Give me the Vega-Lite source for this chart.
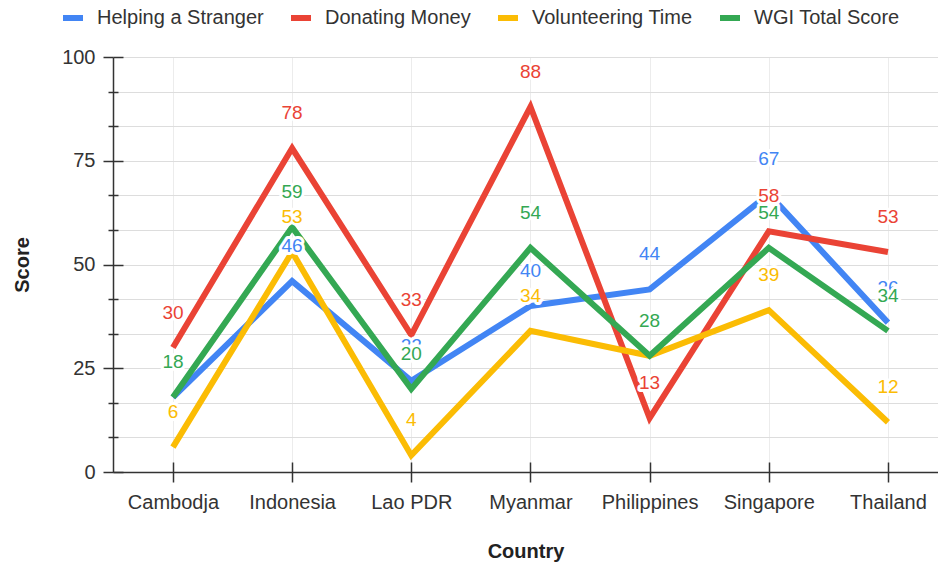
{
  "$schema": "https://vega.github.io/schema/vega-lite/v6.json",
  "width": 825,
  "height": 415,
  "autosize": "none",
  "padding": {"left": 113, "top": 57, "right": 0, "bottom": 93},
  "background": "white",
  "config": {
    "view": {"stroke": null},
    "font": "Liberation Sans",
    "axis": {"labelFont": "Liberation Sans", "titleFont": "Liberation Sans"}
  },
  "datasets": {
    "scores": [
      {"country": "Cambodja", "series": "Helping a Stranger", "score": 18},
      {"country": "Indonesia", "series": "Helping a Stranger", "score": 46},
      {"country": "Lao PDR", "series": "Helping a Stranger", "score": 22},
      {"country": "Myanmar", "series": "Helping a Stranger", "score": 40},
      {"country": "Philippines", "series": "Helping a Stranger", "score": 44},
      {"country": "Singapore", "series": "Helping a Stranger", "score": 67},
      {"country": "Thailand", "series": "Helping a Stranger", "score": 36},
      {"country": "Cambodja", "series": "Donating Money", "score": 30},
      {"country": "Indonesia", "series": "Donating Money", "score": 78},
      {"country": "Lao PDR", "series": "Donating Money", "score": 33},
      {"country": "Myanmar", "series": "Donating Money", "score": 88},
      {"country": "Philippines", "series": "Donating Money", "score": 13},
      {"country": "Singapore", "series": "Donating Money", "score": 58},
      {"country": "Thailand", "series": "Donating Money", "score": 53},
      {"country": "Cambodja", "series": "Volunteering Time", "score": 6},
      {"country": "Indonesia", "series": "Volunteering Time", "score": 53},
      {"country": "Lao PDR", "series": "Volunteering Time", "score": 4},
      {"country": "Myanmar", "series": "Volunteering Time", "score": 34},
      {"country": "Philippines", "series": "Volunteering Time", "score": 28},
      {"country": "Singapore", "series": "Volunteering Time", "score": 39},
      {"country": "Thailand", "series": "Volunteering Time", "score": 12},
      {"country": "Cambodja", "series": "WGI Total Score", "score": 18},
      {"country": "Indonesia", "series": "WGI Total Score", "score": 59},
      {"country": "Lao PDR", "series": "WGI Total Score", "score": 20},
      {"country": "Myanmar", "series": "WGI Total Score", "score": 54},
      {"country": "Philippines", "series": "WGI Total Score", "score": 28},
      {"country": "Singapore", "series": "WGI Total Score", "score": 54},
      {"country": "Thailand", "series": "WGI Total Score", "score": 34}
    ]
  },
  "data": {"name": "scores"},
  "resolve": {"axis": {"x": "independent", "y": "independent"}},
  "layer": [
    {
      "mark": {"type": "line", "strokeWidth": 6, "strokeJoin": "miter", "strokeCap": "butt"},
      "encoding": {
        "x": {
          "field": "country", "type": "nominal", "sort": null,
          "scale": {"type": "point", "padding": 0.4615, "align": 0.545},
          "axis": {
            "orient": "bottom",
            "title": "Country",
            "titleFontSize": 20, "titleFontWeight": "bold", "titleColor": "#222", "titlePadding": 29,
            "labelFontSize": 20, "labelColor": "#333", "labelPadding": 10, "labelAngle": 0,
            "tickSize": 10, "tickColor": "#333", "tickWidth": 1.5,
            "domainColor": "#333", "domainWidth": 1.5,
            "grid": true, "gridColor": "#ececec", "gridWidth": 1
          }
        },
        "y": {
          "field": "score", "type": "quantitative",
          "scale": {"domain": [0, 100], "nice": false, "zero": true},
          "axis": {
            "orient": "left",
            "title": "Score",
            "titleFontSize": 20, "titleFontWeight": "bold", "titleColor": "#222", "titlePadding": 29,
            "values": [0, 8.333333333333334, 16.666666666666668, 25, 33.333333333333336, 41.666666666666664, 50, 58.333333333333336, 66.66666666666667, 75, 83.33333333333333, 91.66666666666667, 100],
            "labelExpr": "datum.value % 25 === 0 ? datum.label : ''",
            "labelFontSize": 20, "labelColor": "#333", "labelPadding": 8,
            "tickSize": {"condition": {"test": "datum.value % 25 === 0", "value": 10}, "value": 5},
            "tickColor": "#333", "tickWidth": 1.5,
            "domainColor": "#333", "domainWidth": 1.5,
            "grid": true, "gridColor": "#dddddd", "gridWidth": 1
          }
        },
        "color": {
          "field": "series", "type": "nominal",
          "scale": {
            "domain": ["Helping a Stranger", "Donating Money", "Volunteering Time", "WGI Total Score"],
            "range": ["#4285F4", "#EA4335", "#FBBC04", "#34A853"]
          },
          "legend": {
            "title": null,
            "orient": "none",
            "direction": "horizontal",
            "legendX": -50,
            "legendY": -49,
            "labelFontSize": 20,
            "labelColor": "#333",
            "labelFont": "Liberation Sans",
            "labelLimit": 400,
            "labelOffset": 14,
            "columnPadding": 27,
            "symbolType": "M-1,-0.3H1V0.3H-1Z",
            "symbolSize": 400,
            "symbolStrokeWidth": 0,
            "encode": {
              "symbols": {
                "update": {
                  "fill": {"scale": "color", "field": "value"},
                  "stroke": {"value": "transparent"},
                  "opacity": {"value": 1}
                }
              }
            }
          }
        },
        "order": {"value": 0}
      }
    },
    {
      "mark": {"type": "point", "opacity": 0},
      "encoding": {
        "x": {
          "field": "country", "type": "nominal", "sort": null,
          "axis": {"orient": "bottom", "title": null, "labels": false, "domain": false, "grid": false, "tickSize": -10, "tickColor": "#333", "tickWidth": 1.5}
        },
        "y": {
          "field": "score", "type": "quantitative",
          "axis": {
            "orient": "left", "title": null, "labels": false, "domain": false, "grid": false,
            "values": [0, 8.333333333333334, 16.666666666666668, 25, 33.333333333333336, 41.666666666666664, 50, 58.333333333333336, 66.66666666666667, 75, 83.33333333333333, 91.66666666666667, 100],
            "tickSize": {"condition": {"test": "datum.value % 25 === 0", "value": -10}, "value": -5},
            "tickColor": "#333", "tickWidth": 1.5
          }
        }
      }
    },
    {
      "transform": [{"filter": "datum.series === 'Helping a Stranger'"}],
      "mark": {"type": "text", "dy": -35, "baseline": "middle", "fontSize": 19, "fill": "white", "stroke": "white", "strokeWidth": 6, "strokeJoin": "round"},
      "encoding": {"x": {"field": "country", "type": "nominal", "sort": null, "axis": null}, "y": {"field": "score", "type": "quantitative", "axis": null}, "text": {"field": "score"}}
    },
    {
      "transform": [{"filter": "datum.series === 'Helping a Stranger'"}],
      "mark": {"type": "text", "dy": -35, "baseline": "middle", "fontSize": 19, "fill": "#4285F4"},
      "encoding": {"x": {"field": "country", "type": "nominal", "sort": null, "axis": null}, "y": {"field": "score", "type": "quantitative", "axis": null}, "text": {"field": "score"}}
    },
    {
      "transform": [{"filter": "datum.series === 'Donating Money'"}],
      "mark": {"type": "text", "dy": -35, "baseline": "middle", "fontSize": 19, "fill": "white", "stroke": "white", "strokeWidth": 6, "strokeJoin": "round"},
      "encoding": {"x": {"field": "country", "type": "nominal", "sort": null, "axis": null}, "y": {"field": "score", "type": "quantitative", "axis": null}, "text": {"field": "score"}}
    },
    {
      "transform": [{"filter": "datum.series === 'Donating Money'"}],
      "mark": {"type": "text", "dy": -35, "baseline": "middle", "fontSize": 19, "fill": "#EA4335"},
      "encoding": {"x": {"field": "country", "type": "nominal", "sort": null, "axis": null}, "y": {"field": "score", "type": "quantitative", "axis": null}, "text": {"field": "score"}}
    },
    {
      "transform": [{"filter": "datum.series === 'Volunteering Time'"}],
      "mark": {"type": "text", "dy": -35, "baseline": "middle", "fontSize": 19, "fill": "white", "stroke": "white", "strokeWidth": 6, "strokeJoin": "round"},
      "encoding": {"x": {"field": "country", "type": "nominal", "sort": null, "axis": null}, "y": {"field": "score", "type": "quantitative", "axis": null}, "text": {"field": "score"}}
    },
    {
      "transform": [{"filter": "datum.series === 'Volunteering Time'"}],
      "mark": {"type": "text", "dy": -35, "baseline": "middle", "fontSize": 19, "fill": "#FBBC04"},
      "encoding": {"x": {"field": "country", "type": "nominal", "sort": null, "axis": null}, "y": {"field": "score", "type": "quantitative", "axis": null}, "text": {"field": "score"}}
    },
    {
      "transform": [{"filter": "datum.series === 'WGI Total Score'"}],
      "mark": {"type": "text", "dy": -35, "baseline": "middle", "fontSize": 19, "fill": "white", "stroke": "white", "strokeWidth": 6, "strokeJoin": "round"},
      "encoding": {"x": {"field": "country", "type": "nominal", "sort": null, "axis": null}, "y": {"field": "score", "type": "quantitative", "axis": null}, "text": {"field": "score"}}
    },
    {
      "transform": [{"filter": "datum.series === 'WGI Total Score'"}],
      "mark": {"type": "text", "dy": -35, "baseline": "middle", "fontSize": 19, "fill": "#34A853"},
      "encoding": {"x": {"field": "country", "type": "nominal", "sort": null, "axis": null}, "y": {"field": "score", "type": "quantitative", "axis": null}, "text": {"field": "score"}}
    }
  ]
}
